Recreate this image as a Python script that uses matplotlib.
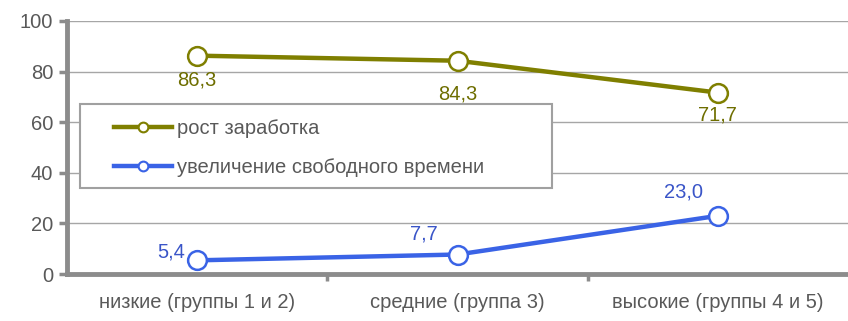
import matplotlib
matplotlib.use("Agg")
import matplotlib.pyplot as plt
from matplotlib.lines import Line2D
from matplotlib.patches import Rectangle

categories = ["низкие (группы 1 и 2)", "средние (группа 3)", "высокие (группы 4 и 5)"]
earnings = [86.3, 84.3, 71.7]
free_time = [5.4, 7.7, 23.0]
series_names = ["рост заработка", "увеличение свободного времени"]
yticks = [0, 20, 40, 60, 80, 100]

plt.rcParams['font.family'] = ['Liberation Sans', 'DejaVu Sans']

olive = "#7f7f00"
olive_txt = "#6e6e00"
blue = "#3a63e6"
blue_txt = "#3a55c8"
gray = "#8c8c8c"
txt_gray = "#595959"
FS = 14.5
W, H = 848, 321

fig = plt.figure(figsize=(W/100, H/100), dpi=100)
ax = fig.add_axes([67/W, 1-274/H, 1-67/W, (274-21)/H])

x = list(range(len(categories)))
ax.plot(x, earnings, color=olive, lw=3.2, marker='o', ms=13.5, mfc='white', mec=olive, mew=1.8, zorder=3, clip_on=False)
ax.plot(x, free_time, color=blue, lw=3.2, marker='o', ms=13.5, mfc='white', mec=blue, mew=1.8, zorder=3, clip_on=False)

ax.set_xlim(-0.5, 2.5)
ax.set_ylim(0, 100)
ax.set_yticks(yticks)
ax.set_yticklabels([str(v) for v in yticks])
ax.set_xticks(x)
ax.set_xticklabels(categories)
ax.set_xticks([0.5, 1.5], minor=True)
ax.tick_params(axis='x', which='major', length=0, pad=14, labelsize=FS, labelcolor=txt_gray)
ax.tick_params(axis='x', which='minor', length=5, width=2.5, color=gray, direction='out')
ax.tick_params(axis='y', length=6, width=2.5, color=gray, pad=4, labelsize=FS, labelcolor=txt_gray)

ax.grid(axis='y', color='#a6a6a6', lw=1)
ax.set_axisbelow(True)
for s in ['top', 'right']:
    ax.spines[s].set_visible(False)
for s in ['left', 'bottom']:
    ax.spines[s].set_color(gray)
    ax.spines[s].set_linewidth(3.5)

def fmt(v):
    return f"{v:.1f}".replace('.', ',')

# earnings labels below points (offsets in points)
e_offs = [(0, -11), (0, -17), (0, -9.5)]
for xi, v, (dx, dy) in zip(x, earnings, e_offs):
    ax.annotate(fmt(v), (xi, v), xytext=(dx, dy), textcoords='offset points',
                ha='center', va='top', color=olive_txt, fontsize=FS)
# free time labels
f_offs = [(-8.5, 5.8, 'right', 'center'), (-14.4, 8, 'right', 'bottom'), (-24.5, 10, 'center', 'bottom')]
for xi, v, (dx, dy, ha, va) in zip(x, free_time, f_offs):
    ax.annotate(fmt(v), (xi, v), xytext=(dx, dy), textcoords='offset points',
                ha=ha, va=va, color=blue_txt, fontsize=FS)

# legend frame
frame = Rectangle((80/W, 1-188/H), (552-80)/W, (188-104)/H, transform=fig.transFigure,
                  facecolor='white', edgecolor='#a0a0a0', lw=1.5, zorder=4)
fig.add_artist(frame)

handles = [Line2D([], [], color=olive, lw=3.2, marker='o', ms=7, mfc='white', mec=olive, mew=1.5),
           Line2D([], [], color=blue, lw=3.2, marker='o', ms=7, mfc='white', mec=blue, mew=1.5)]
leg = fig.legend(handles, series_names, loc='upper left',
                 bbox_to_anchor=(114/W, 1-119/H), bbox_transform=fig.transFigure,
                 fontsize=FS, frameon=False, handlelength=2.9, handletextpad=0.25,
                 borderaxespad=0, labelspacing=1.0, borderpad=0, labelcolor=txt_gray)
leg.set_zorder(5)

fig.savefig("out.png", dpi=100)
